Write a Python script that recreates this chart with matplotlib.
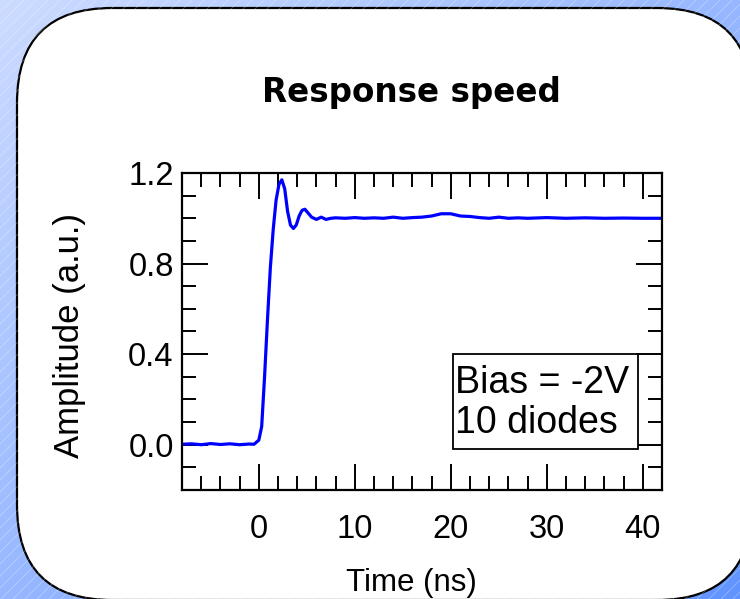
import numpy as np
import matplotlib
matplotlib.use('Agg')
import matplotlib.pyplot as plt
from matplotlib.patches import FancyBboxPatch, Rectangle
from matplotlib.ticker import MultipleLocator

# Data (time in ns, amplitude in a.u.)
time_ns = [-8.0, -7.0, -6.0, -5.0, -4.0, -3.0, -2.0, -1.0, -0.5, 0.0,
           0.3, 0.6, 0.9, 1.2, 1.5, 1.8, 2.1, 2.4, 2.7, 3.0,
           3.3, 3.6, 3.9, 4.2, 4.5, 4.8, 5.1, 5.5, 6.0, 6.5,
           7.0, 7.5, 8.0, 9.0, 10.0, 11.0, 12.0, 13.0, 14.0, 15.0,
           16.0, 17.0, 18.0, 19.0, 20.0, 21.0, 22.0, 23.0, 24.0, 25.0,
           26.0, 27.0, 28.0, 30.0, 32.0, 34.0, 36.0, 38.0, 40.0, 42.0]
amplitude = [0.002, 0.004, 0.000, 0.005, 0.001, 0.004, 0.000, 0.003, 0.002, 0.02,
             0.08, 0.30, 0.55, 0.78, 0.95, 1.08, 1.15, 1.17, 1.13, 1.03,
             0.97, 0.955, 0.97, 1.01, 1.035, 1.04, 1.025, 1.005, 0.995, 1.005,
             0.995, 1.0, 1.002, 1.0, 1.003, 1.0, 1.002, 1.0, 1.005, 1.0,
             1.003, 1.005, 1.01, 1.02, 1.02, 1.01, 1.008, 1.003, 1.0, 1.005,
             1.0, 1.002, 1.0, 1.003, 1.0, 1.002, 1.0, 1.001, 1.0, 1.0]

x_ticks = [0, 10, 20, 30, 40]
y_ticks = [0.0, 0.4, 0.8, 1.2]
note_lines = ['Bias = -2V', '10 diodes']

W, H = 740, 599
fig = plt.figure(figsize=(W / 100, H / 100), dpi=100)

# background: blue gradient with faint diagonal stripes, white rounded panel
bg = fig.add_axes([0, 0, 1, 1])
bg.set_xlim(0, W)
bg.set_ylim(H, 0)
bg.axis('off')
gx, gy = np.meshgrid(np.linspace(0, 1, 300), np.linspace(0, 1, 300))
g = (gx + gy) / 2
c0 = np.array([0.80, 0.86, 1.0])
c1 = np.array([0.38, 0.58, 1.0])
bg.imshow(c0 + (c1 - c0) * g[..., None], extent=(0, W, H, 0), aspect='auto')
for k in range(-H, W + 20, 12):
    bg.plot([k, k + H], [H, 0], color='white', lw=0.6, alpha=0.3)
panel = FancyBboxPatch((17, 8), 735, 592, boxstyle='round,pad=0,rounding_size=95',
                       fc='white', ec='black', lw=1.6)
bg.add_patch(panel)

ax = fig.add_axes([182 / W, 1 - 490 / H, 480 / W, 317 / H])
ax.plot(time_ns, amplitude, color='#0000ff', lw=2.3)
ax.set_xlim(-8, 42)
ax.set_ylim(-0.2, 1.2)
ax.set_xticks(x_ticks)
ax.set_yticks(y_ticks)
ax.set_yticklabels([f'{v:.1f}' for v in y_ticks])
ax.xaxis.set_minor_locator(MultipleLocator(2))
ax.yaxis.set_minor_locator(MultipleLocator(0.1))
ax.tick_params(which='both', direction='in', top=True, right=True, width=1.4,
               labelsize=23.5)
ax.tick_params(which='major', length=19)
ax.tick_params(which='minor', length=10)
ax.tick_params(axis='x', pad=17)
ax.tick_params(axis='y', pad=6)
for lab in ax.get_xticklabels() + ax.get_yticklabels():
    lab.set_family('Liberation Sans')
for s in ax.spines.values():
    s.set_linewidth(1.6)

# annotation box
ax.add_patch(Rectangle((0.5646, 0.1293), 0.3854, 0.2997, transform=ax.transAxes,
                       fc='white', ec='black', lw=1.3, zorder=3))
ax.text(0.568, 0.306, note_lines[0], transform=ax.transAxes, family='Liberation Sans',
        fontsize=27, ha='left', va='baseline', zorder=4)
ax.text(0.568, 0.180, note_lines[1], transform=ax.transAxes, family='Liberation Sans',
        fontsize=27, ha='left', va='baseline', zorder=4)

fig.text(411 / W, 1 - 92 / H, 'Response speed', ha='center', va='center',
         fontsize=23.5, fontweight='bold', family='DejaVu Sans')
fig.text(411 / W, 1 - 583 / H, 'Time (ns)', ha='center', va='center',
         fontsize=22.5, family='Liberation Sans')
fig.text(69 / W, 1 - 335 / H, 'Amplitude (a.u.)', ha='center', va='center',
         rotation=90, fontsize=25, family='Liberation Sans')

fig.savefig('out.png', dpi=100)
